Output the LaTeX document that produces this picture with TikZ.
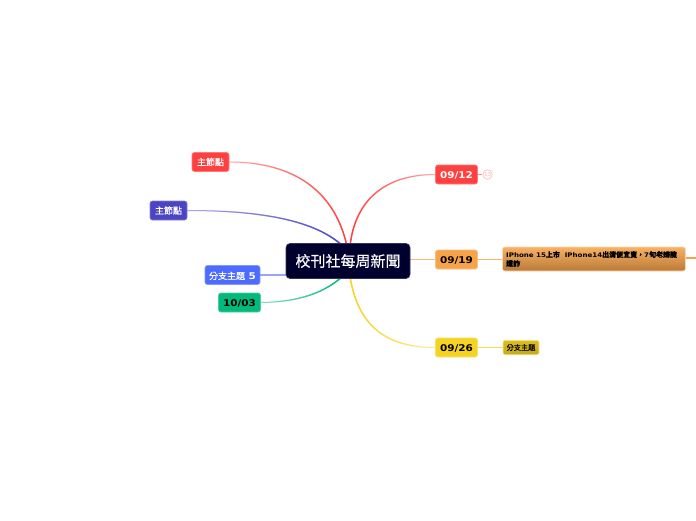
\documentclass[tikz,border=0pt]{standalone}
\usepackage{fontspec}
\setmainfont{DejaVu Sans}
\newfontfamily\wide[FakeStretch=1.12]{DejaVu Sans}
\newfontfamily\cjk[FakeBold=0.35]{Noto Sans CJK TC}
\usetikzlibrary{fadings,backgrounds,calc}
\definecolor{cred}{HTML}{FF4040}
\definecolor{cind}{HTML}{4B45C2}
\definecolor{cblu}{HTML}{4D6BFF}
\definecolor{cgrn}{HTML}{00B97A}
\definecolor{cora}{HTML}{F7A34A}
\definecolor{cyel}{HTML}{F5D322}
\definecolor{cnav}{HTML}{00002E}
\tikzset{
  topic/.style n args={3}{rectangle,rounded corners=2.5pt,inner sep=0pt,minimum width=#1,minimum height=19pt,fill=#2,draw=#2!70!white,line width=.7pt,text=#3,text height=8.5pt,text depth=0pt,font=\wide\bfseries\fontsize{9.3}{11}\selectfont},
  cjktopic/.style n args={2}{rectangle,rounded corners=2.5pt,inner sep=0pt,minimum width=#1,minimum height=19pt,fill=#2,draw=#2!70!white,line width=.7pt,text=white,font=\cjk\fontsize{9}{11}\selectfont},
  link/.style={line width=1.5pt,line cap=round},
  pale/.style={line width=1pt,#1!45!white},
  faderight/.style={path fading=east},
  fadeleft/.style={path fading=west},
}
\begin{document}
\begin{tikzpicture}[x=1pt,y=-1pt]
\useasboundingbox (0,0) rectangle (696,520);
\node[rectangle,rounded corners=4pt,inner sep=0pt,minimum width=124pt,minimum height=35pt,fill=cnav,draw=cnav!80!white,line width=.6pt,text=white,font=\cjk\fontsize{15}{17}\selectfont] (root) at (348,261) {校刊社每周新聞};
\node[cjktopic={37pt}{cred}] (a) at (210.5,162) {主節點};
\node[cjktopic={37pt}{cind}] (b) at (168.5,210.5) {主節點};
\node[topic={55pt}{cblu}{white}] (c) at (232.5,275) {{\cjk\mdseries\fontsize{9}{11}\selectfont 分支主題} 5};
\node[topic={42pt}{cgrn}{black}] (d) at (239.5,302.5) {10/03};
\node[topic={42pt}{cred}{white}] (e) at (456.5,174.5) {09/12};
\node[topic={42pt}{cora}{black}] (f) at (456.5,259.5) {09/19};
\node[topic={42pt}{cyel}{black}] (g) at (456.5,347.5) {09/26};
\node[circle,inner sep=0pt,minimum size=9.5pt,draw=cred!35!white,fill=white,line width=.7pt,text=cred!40!white,font=\fontsize{5.5}{6}\selectfont] (e1) at (487.5,174.5) {13};
\node[rectangle,rounded corners=2.5pt,draw=cora!45!white,line width=.6pt,top color=cora!85!white,bottom color=cora!75!black,minimum width=183pt,minimum height=24pt,inner sep=0pt] (f1) at (594,259) {};
\node[anchor=west,align=left,inner sep=0pt,font=\wide\bfseries\fontsize{6.3}{9}\selectfont,text=black] (f1t) at (506,259) {IPhone 15{\cjk\fontsize{7}{9}\selectfont 上市}\ \ IPhone14{\cjk\fontsize{7}{9}\selectfont 出清便宜賣，}7{\cjk\fontsize{7}{9}\selectfont 旬老婦險}\\[0pt]{\cjk\fontsize{7}{9}\selectfont 遭詐}};
\node[rectangle,rounded corners=2pt,draw=cyel!50!white,line width=.6pt,top color=cyel!90!black,bottom color=cyel!80!black,minimum width=36pt,minimum height=14.5pt,inner sep=0pt,text=black,font=\cjk\fontsize{7.2}{8}\selectfont] (g1) at (521,347.5) {分支主題};
\coordinate (end) at (696,258);
\begin{scope}[on background layer]
  \coordinate (ra) at ($(root.north)+(-1,3)$);
  \coordinate (rb) at ($(root.north)+(-5,3)$);
  \coordinate (re) at ($(root.north)+(2,3)$);
  \coordinate (rd) at ($(root.south)+(-6,-2)$);
  \coordinate (rg) at ($(root.south)+(2,-2)$);
  \draw[pale=cred] (a.east) .. controls (295,162) and (335,192) .. (ra);
  \draw[link,cred,fadeleft] (a.east) .. controls (295,162) and (335,192) .. (ra);
  \draw[pale=cind] (b.east) .. controls (260,210.5) and (315,220) .. (rb);
  \draw[link,cind,fadeleft] (b.east) .. controls (260,210.5) and (315,220) .. (rb);
  \draw[pale=cred] (e.west) .. controls (385,174.5) and (355,200) .. (re);
  \draw[link,cred,faderight] (e.west) .. controls (385,174.5) and (355,200) .. (re);
  \draw[pale=cgrn] (d.east) .. controls (300,302) and (325,292) .. (rd);
  \draw[link,cgrn,fadeleft] (d.east) .. controls (300,302) and (325,292) .. (rd);
  \draw[pale=cyel] (g.west) .. controls (385,347.5) and (358,325) .. (rg);
  \draw[link,cyel,faderight] (g.west) .. controls (385,347.5) and (358,325) .. (rg);
  \draw[line width=1.1pt,cblu!60!white] (c.east) -- (root.west |- c.east);
  \draw[line width=1.1pt,cora!75!white] (root.east |- f.west) -- (f.west);
  \draw[line width=1.1pt,cora!80!white] (f.east) -- (f1.west |- f.east);
  \draw[line width=1.3pt,cora] (f1.east |- end) -- (end);
  \draw[line width=1.1pt,cyel!80!white] (g.east) -- (g1.west);
  \draw[line width=1.1pt,cred!60!white] (e.east) -- (e1.west);
\end{scope}
\end{tikzpicture}
\end{document}
